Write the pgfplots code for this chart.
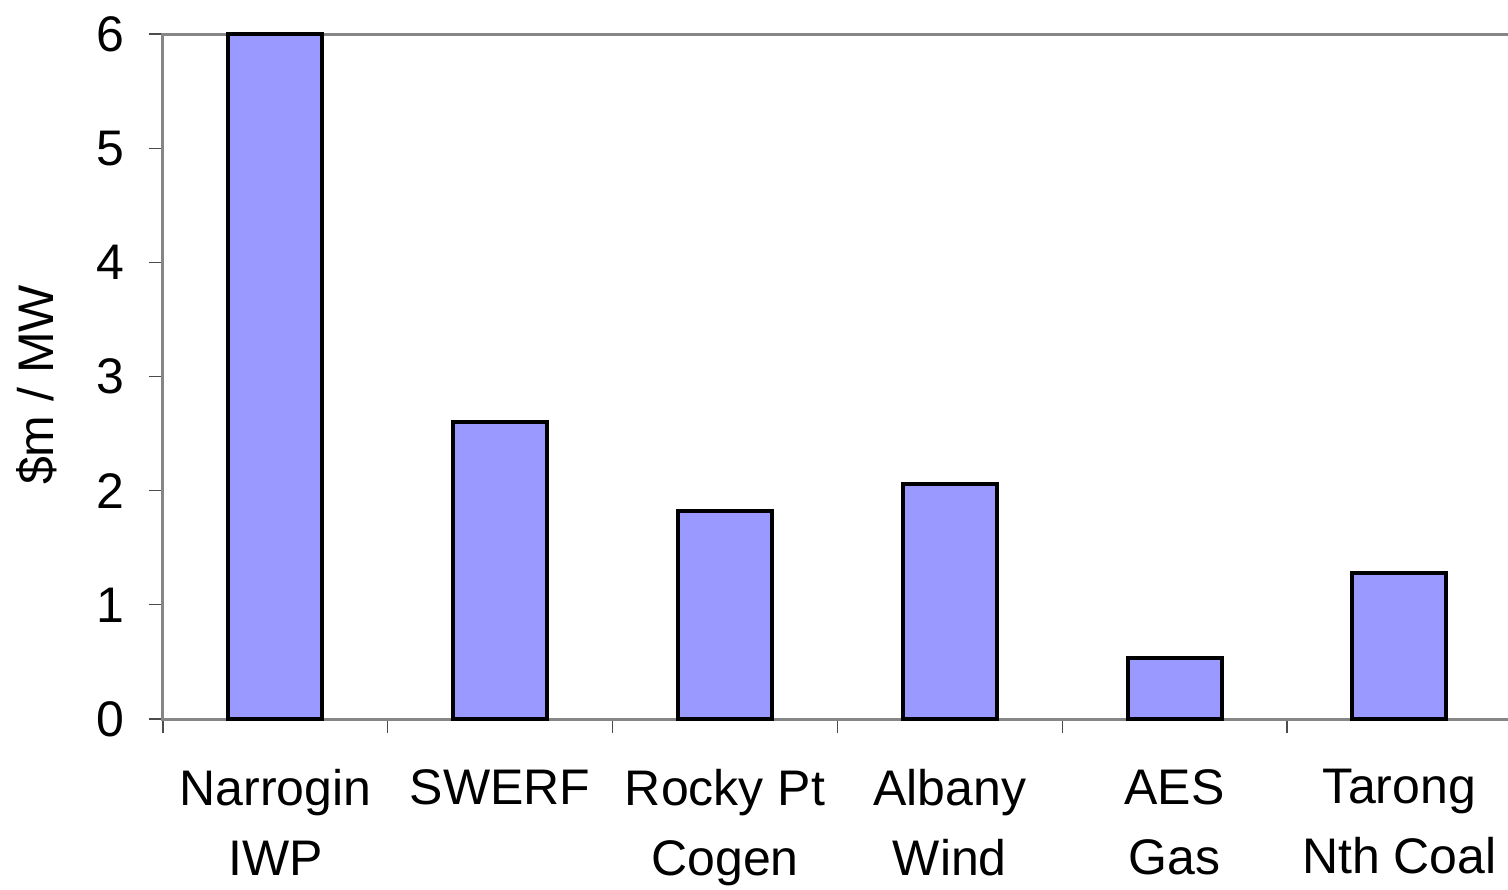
\documentclass[border=0pt]{standalone}
\usepackage{fontspec}
\setmainfont{Liberation Sans}
\usepackage{pgfplots}
\pgfplotsset{compat=1.18}
\definecolor{barfill}{RGB}{153,153,255}
\definecolor{axgray}{RGB}{134,134,134}
\begin{document}
\begin{tikzpicture}
\begin{axis}[
  at={(0,0)}, anchor=south west,
  scale only axis,
  width=674.4bp, height=342.5bp,
  ybar, bar width=47bp,
  xmin=-0.5, xmax=5.5, ymin=0, ymax=6,
  ytick={0,1,2,3,4,5,6},
  xtick={0,1,2,3,4,5},
  minor xtick={-0.5,0.5,1.5,2.5,3.5,4.5,5.5},
  xticklabels={{Narrogin\\IWP},{SWERF},{Rocky Pt\\Cogen},{Albany\\Wind},{AES\\Gas},{Tarong\\Nth Coal}},
  xtick pos=bottom, ytick pos=left,
  tick align=outside,
  major tick length=7bp, minor tick length=7bp,
  x tick style={draw=none},
  minor x tick style={draw=black!70, line width=0.6bp},
  y tick style={draw=black!70, line width=0.6bp},
  axis line style={draw=axgray, line width=1.5bp},
  /pgf/number format/assume math mode=true,
  tick label style={font=\fontsize{25bp}{35bp}\selectfont},
  xticklabel style={align=center, anchor=north, inner sep=0pt, yshift=-18bp},
  yticklabel style={anchor=east, inner sep=0pt, xshift=-12bp},
  every axis y label/.style={at={(axis description cs:-0.0934,0.4876)}, rotate=90, anchor=center, font=\fontsize{25bp}{30bp}\selectfont},
  ylabel={\$m / MW},
  clip=false,
]
\addplot[fill=barfill, draw=black, line width=2bp] coordinates {
  (0,6.0) (1,2.60) (2,1.82) (3,2.06) (4,0.536) (5,1.28)
};
\end{axis}
\pgfresetboundingbox
\path[use as bounding box] (-81.5bp,-85.5bp) rectangle (672.5bp,359.5bp);
\end{tikzpicture}
\end{document}
